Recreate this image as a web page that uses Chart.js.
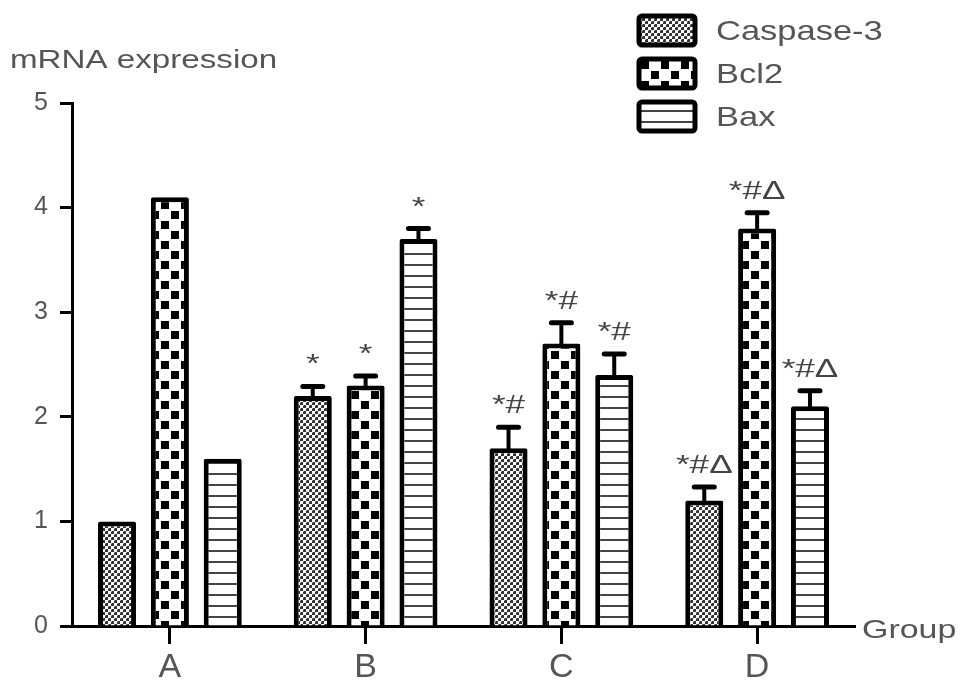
<!DOCTYPE html>
<html>
<head>
<meta charset="utf-8">
<script src="https://cdn.jsdelivr.net/npm/chart.js@4.4.0/dist/chart.umd.min.js"></script>
<style>
  body { margin: 0; background: #fff; }
</style>
</head>
<body>
<canvas id="myChart" width="969" height="697"></canvas>
<script>
const groups = ['A', 'B', 'C', 'D'];
const seriesNames = ['Caspase-3', 'Bcl2', 'Bax'];

const caspase = [1.0, 2.2, 1.7, 1.2];
const bcl2 = [4.1, 2.3, 2.7, 3.8];
const bax = [1.6, 3.7, 2.4, 2.1];

const caspaseErr = [0, 0.09, 0.2, 0.13];
const bcl2Err = [0, 0.09, 0.2, 0.15];
const baxErr = [0, 0.1, 0.2, 0.15];

const caspaseMarks = ['', '*', '*#', '*#Δ'];
const bcl2Marks = ['', '*', '*#', '*#Δ'];
const baxMarks = ['', '*', '*#', '*#Δ'];

const yTicks = [0, 1, 2, 3, 4, 5];

const FONT = '"Liberation Sans", Arial, sans-serif';
const TEXT = '#555';

// fill patterns
function makePattern(w, h, draw) {
	const c = document.createElement('canvas');
	c.width = w; c.height = h;
	const g = c.getContext('2d');
	g.fillStyle = '#fff';
	g.fillRect(0, 0, w, h);
	draw(g);
	return document.getElementById('myChart').getContext('2d').createPattern(c, 'repeat');
}

const dotPattern = makePattern(6, 6, g => {
	g.fillStyle = '#333';
	g.fillRect(0, 0, 3, 3);
	g.fillRect(3, 3, 3, 3);
	g.fillStyle = 'rgba(255,255,255,0.5)';
	g.fillRect(0, 0, 1, 1);
	g.fillRect(3, 3, 1, 1);
});

const checkPattern = makePattern(20, 20, g => {
	g.fillStyle = '#000';
	g.fillRect(1, 1, 8, 8);
	g.fillRect(11, 11, 8, 8);
});

const linePattern = makePattern(4, 11, g => {
	g.fillStyle = '#444';
	g.fillRect(0, 0, 4, 2);
});

const patterns = [dotPattern, checkPattern, linePattern];
const values = [caspase, bcl2, bax];
const errors = [caspaseErr, bcl2Err, baxErr];
const marks = [caspaseMarks, bcl2Marks, baxMarks];

const data = {
	labels: groups,
	datasets: seriesNames.map((name, i) => ({
		label: name,
		data: values[i],
		backgroundColor: patterns[i],
		borderColor: '#000',
		borderWidth: 5,
		borderRadius: 2,
		borderSkipped: 'bottom',
		categoryPercentage: 0.81,
		barPercentage: 0.72
	}))
};

// text drawn a bit wider than the font, like the original figure
function wideText(ctx, str, x, y, size, stretch, align) {
	ctx.save();
	ctx.font = size + 'px ' + FONT;
	ctx.textAlign = align || 'left';
	ctx.translate(x, y);
	ctx.scale(stretch, 1);
	ctx.fillText(str, 0, 0);
	ctx.restore();
}

// error bars, star marks, axis titles and legend
const extras = {
	id: 'extras',
	afterDatasetsDraw: (chart) => {
		const ctx = chart.ctx;
		const y = chart.scales.y;
		ctx.save();
		chart.data.datasets.forEach((ds, i) => {
			const meta = chart.getDatasetMeta(i);
			meta.data.forEach((bar, j) => {
				const err = errors[i][j];
				const top = y.getPixelForValue(values[i][j]);
				const cap = y.getPixelForValue(values[i][j] + err);
				if (err > 0) {
					ctx.strokeStyle = '#000';
					ctx.lineCap = 'round';
					ctx.lineWidth = 4;
					ctx.beginPath();
					ctx.moveTo(bar.x, top);
					ctx.lineTo(bar.x, cap);
					ctx.stroke();
					ctx.lineWidth = 5;
					ctx.beginPath();
					ctx.moveTo(bar.x - 10, cap);
					ctx.lineTo(bar.x + 10, cap);
					ctx.stroke();
				}
				if (marks[i][j]) {
					ctx.fillStyle = '#444';
					ctx.textBaseline = 'alphabetic';
					wideText(ctx, marks[i][j], bar.x, cap - 14, 26, 1.35, 'center');
				}
			});
		});
		ctx.restore();
	},
	afterDraw: (chart) => {
		const ctx = chart.ctx;
		ctx.save();
		ctx.fillStyle = TEXT;
		ctx.textBaseline = 'middle';
		wideText(ctx, 'mRNA expression', 10, 61, 25.5, 1.3);
		wideText(ctx, 'Group', 862, 631, 26.5, 1.28);

		// legend
		seriesNames.forEach((name, i) => {
			const top = 16 + i * 43;
			ctx.fillStyle = patterns[i];
			ctx.strokeStyle = '#000';
			ctx.lineWidth = 5;
			ctx.beginPath();
			ctx.roundRect(639, top, 56, 29, 3);
			ctx.fill();
			ctx.stroke();
			ctx.fillStyle = TEXT;
			wideText(ctx, name, 716, top + 16, 28.5, 1.21);
		});
		ctx.restore();
	}
};

const config = {
	type: 'bar',
	data: data,
	plugins: [extras],
	options: {
		responsive: false,
		animation: false,
		devicePixelRatio: 1,
		layout: {
			padding: { top: 103, right: 114, left: 0, bottom: 0 }
		},
		scales: {
			x: {
				grid: {
					offset: false,
					drawOnChartArea: false,
					drawTicks: true,
					tickLength: 18,
					tickWidth: 3,
					tickColor: '#000'
				},
				border: { color: '#000', width: 3 },
				ticks: {
					color: TEXT,
					font: { family: FONT, size: 34 },
					padding: 3
				},
				afterFit: (s) => { s.height = 71; }
			},
			y: {
				min: 0,
				max: 5,
				afterBuildTicks: (s) => { s.ticks = yTicks.map(v => ({ value: v })); },
				grid: {
					drawOnChartArea: false,
					drawTicks: true,
					tickLength: 12,
					tickWidth: 3,
					tickColor: '#000'
				},
				border: { color: '#000', width: 3 },
				ticks: {
					color: TEXT,
					font: { family: FONT, size: 25 },
					padding: 12
				},
				afterFit: (s) => { s.width = 72; }
			}
		},
		plugins: {
			legend: { display: false },
			tooltip: { enabled: false }
		}
	}
};

const myChart = new Chart(document.getElementById('myChart'), config);
</script>
</body>
</html>
